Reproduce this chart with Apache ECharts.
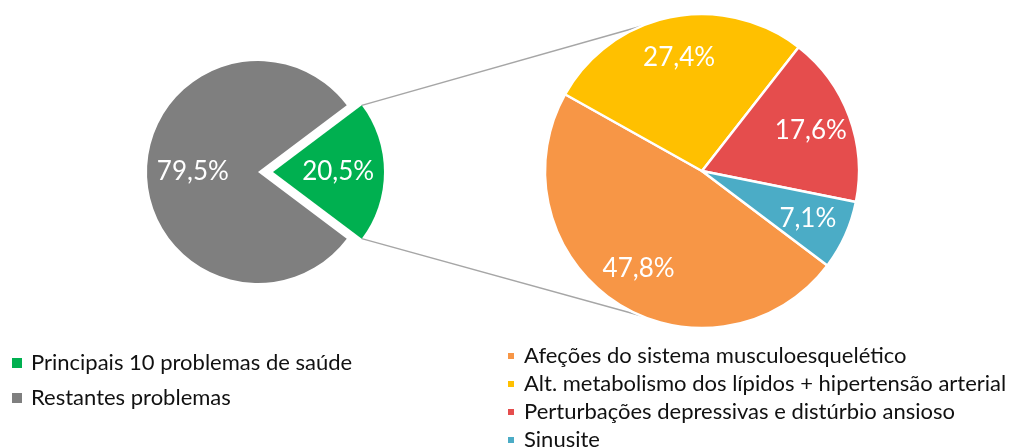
<!DOCTYPE html>
<html>
<head>
<meta charset="utf-8">
<script src="https://cdn.jsdelivr.net/npm/echarts@6/dist/echarts.min.js"></script>
<style>
  html, body { margin: 0; padding: 0; background: #fff; }
  #chart { width: 1019px; height: 448px; }
</style>
</head>
<body>
<div id="chart"></div>
<script>
// left pie (all problems)
var mainNames = ['Principais 10 problemas de saúde', 'Restantes problemas'];
var mainValues = [20.5, 79.5];
var mainColors = ['#00B050', '#7F7F7F'];

// right pie (breakdown of the top 10)
var subNames = [
    'Afeções do sistema musculoesquelético',
    'Alt. metabolismo dos lípidos + hipertensão arterial',
    'Perturbações depressivas e distúrbio ansioso',
    'Sinusite'
];
var subValues = [47.8, 27.4, 17.6, 7.1];
var subColors = ['#F79646', '#FFC000', '#E54D4D', '#4BACC6'];

(function () {
    "use strict";

    var myChart = echarts.init(document.getElementById('chart'), null, { renderer: 'canvas' }),
        font = 'Lato, "Open Sans", sans-serif',
        leftC = [258, 172], leftR = 111, offset = 15,
        rightC = [702, 171], rightR = 157,
        mainStart = mainValues[0] / (mainValues[0] + mainValues[1]) * 360 / 2,
        subStart = 323,
        mainData = [], subData = [], i, ang, rad, pts, fmt;

    fmt = function (p) {
        return p.value.toFixed(1).replace('.', ',') + '%';
    };

    for (i = 0; i < mainNames.length; i++) {
        mainData.push({
            name: mainNames[i],
            value: mainValues[i],
            selected: i === 0,
            itemStyle: { color: mainColors[i] }
        });
    }
    for (i = 0; i < subNames.length; i++) {
        subData.push({
            name: subNames[i],
            value: subValues[i],
            itemStyle: { color: subColors[i] }
        });
    }

    // connector lines: corners of the exploded slice to the second pie
    ang = mainStart * Math.PI / 180;
    rad = 112.5 * Math.PI / 180;
    pts = {
        x1: leftC[0] + offset + leftR * Math.cos(ang),
        yTop: leftC[1] - leftR * Math.sin(ang),
        yBot: leftC[1] + leftR * Math.sin(ang),
        x2: rightC[0] + rightR * Math.cos(rad),
        y2Top: rightC[1] - rightR * Math.sin(rad),
        y2Bot: rightC[1] + rightR * Math.sin(rad)
    };

    // transparent copy of a pie, only used to place the % labels further out
    function ghost(data, center, r, inner, start, sel) {
        return {
            type: 'pie',
            silent: true,
            center: center,
            radius: [inner, r],
            startAngle: start,
            clockwise: true,
            selectedMode: sel ? 'single' : false,
            selectedOffset: offset,
            animation: false,
            z: 5,
            data: data.map(function (d) {
                return { name: d.name, value: d.value, selected: d.selected, itemStyle: { color: 'rgba(0,0,0,0)', borderWidth: 0 } };
            }),
            label: {
                show: true,
                position: 'inside',
                color: '#fff',
                fontSize: 26,
                fontFamily: font,
                formatter: fmt
            },
            labelLine: { show: false },
            emphasis: { disabled: true }
        };
    }

    var legendText = { fontSize: 22, lineHeight: 20, color: '#111', fontFamily: font, padding: [0, 0, 0, 4] };

    var option = {
        backgroundColor: '#fff',
        legend: [
            {
                orient: 'vertical',
                left: 12,
                top: 352,
                padding: 0,
                itemWidth: 10,
                itemHeight: 10,
                itemGap: 13,
                icon: 'rect',
                selectedMode: false,
                textStyle: legendText,
                data: mainNames
            },
            {
                orient: 'vertical',
                left: 506,
                top: 345,
                height: 140,
                padding: 0,
                itemWidth: 8,
                itemHeight: 8,
                itemGap: 6,
                icon: 'rect',
                selectedMode: false,
                textStyle: legendText,
                data: subNames
            }
        ],
        graphic: [
            {
                type: 'line',
                silent: true,
                shape: { x1: pts.x1, y1: pts.yTop, x2: pts.x2, y2: pts.y2Top },
                style: { stroke: '#A6A6A6', lineWidth: 1.5 }
            },
            {
                type: 'line',
                silent: true,
                shape: { x1: pts.x1, y1: pts.yBot, x2: pts.x2, y2: pts.y2Bot },
                style: { stroke: '#A6A6A6', lineWidth: 1.5 }
            }
        ],
        series: [
            {
                type: 'pie',
                center: leftC,
                radius: leftR,
                startAngle: mainStart,
                clockwise: true,
                selectedMode: 'single',
                selectedOffset: offset,
                animation: false,
                silent: true,
                label: { show: false },
                labelLine: { show: false },
                emphasis: { disabled: true },
                data: mainData
            },
            {
                type: 'pie',
                center: rightC,
                radius: rightR,
                startAngle: subStart,
                clockwise: true,
                animation: false,
                silent: true,
                itemStyle: { borderColor: '#fff', borderWidth: 2.5 },
                label: { show: false },
                labelLine: { show: false },
                emphasis: { disabled: true },
                data: subData
            },
            ghost(mainData, leftC, leftR, leftR * 0.12, mainStart, true),
            ghost(subData, rightC, rightR, rightR * 0.44, subStart, false)
        ]
    };

    myChart.setOption(option);
})();
</script>
</body>
</html>
